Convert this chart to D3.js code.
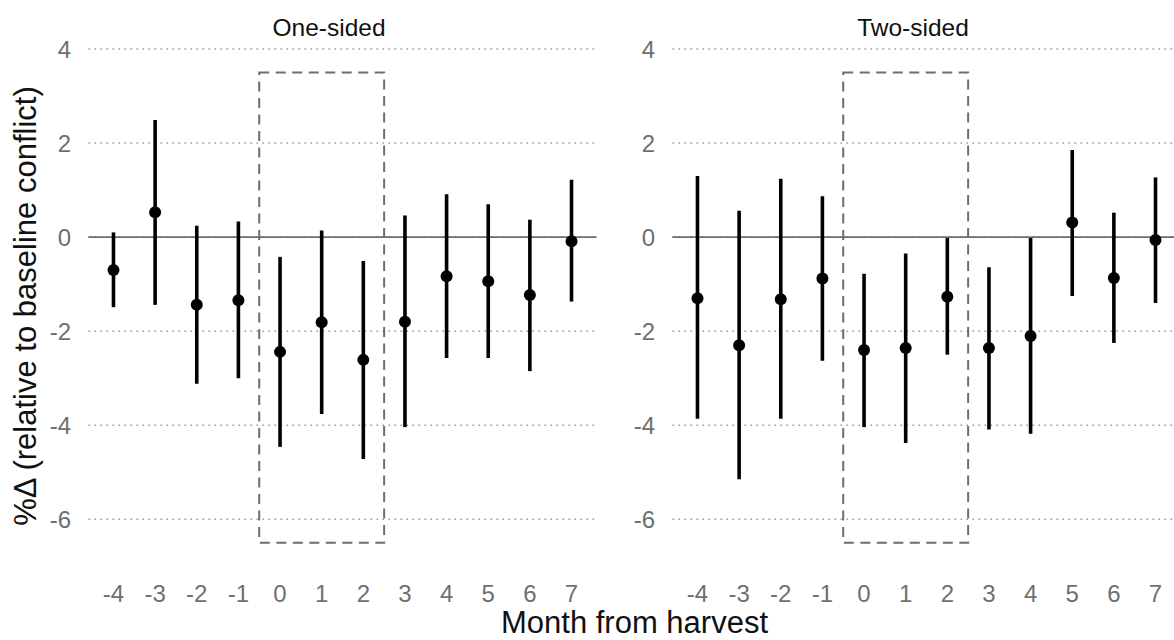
<!DOCTYPE html>
<html>
<head>
<meta charset="utf-8">
<script src="https://cdn.jsdelivr.net/npm/d3@7"></script>
<style>
  html, body { margin: 0; padding: 0; background: #ffffff; overflow: hidden; }
  svg { display: block; font-family: "Liberation Sans", Arial, Helvetica, sans-serif; }
</style>
</head>
<body>
<svg id="chart" width="1174" height="640"></svg>
<script>
// ---- data ----
const months = [-4, -3, -2, -1, 0, 1, 2, 3, 4, 5, 6, 7];
const panels = ["One-sided", "Two-sided"];

const oneSidedEst = [-0.70, 0.53, -1.44, -1.34, -2.44, -1.81, -2.61, -1.80, -0.83, -0.94, -1.23, -0.09];
const oneSidedLo  = [-1.49, -1.44, -3.12, -3.00, -4.46, -3.76, -4.72, -4.04, -2.57, -2.57, -2.85, -1.37];
const oneSidedHi  = [ 0.10, 2.49, 0.24, 0.33, -0.42, 0.14, -0.51, 0.46, 0.91, 0.70, 0.37, 1.22];

const twoSidedEst = [-1.30, -2.30, -1.32, -0.88, -2.40, -2.36, -1.27, -2.36, -2.10, 0.31, -0.87, -0.06];
const twoSidedLo  = [-3.86, -5.15, -3.86, -2.63, -4.04, -4.38, -2.50, -4.09, -4.18, -1.25, -2.25, -1.40];
const twoSidedHi  = [ 1.30, 0.56, 1.24, 0.87, -0.78, -0.35, -0.02, -0.64, -0.02, 1.85, 0.52, 1.27];

const yTicks = [-6, -4, -2, 0, 2, 4];
const xTickLabels = ["-4", "-3", "-2", "-1", "0", "1", "2", "3", "4", "5", "6", "7"];

// highlighted window (months 0..2) and its vertical extent
const boxMonths = [0, 2];
const boxY = [-6.5, 3.5];

const xTitle = "Month from harvest";
const yTitle = "%\u0394 (relative to baseline conflict)";

// ---- layout ----
const svg = d3.select("#chart");
const panelLeft = [88.5, 672.5];
const panelWidth = 508;

const y = d3.scaleLinear().domain([-6, 4]).range([519.3, 49]);

const seriesData = [
  months.map((m, i) => ({ m, est: oneSidedEst[i], lo: oneSidedLo[i], hi: oneSidedHi[i] })),
  months.map((m, i) => ({ m, est: twoSidedEst[i], lo: twoSidedLo[i], hi: twoSidedHi[i] }))
];

panels.forEach((name, p) => {
  const x0 = panelLeft[p];
  const x = d3.scalePoint().domain(months).range([x0, x0 + panelWidth]).padding(0.6);
  const step = x.step();
  const g = svg.append("g");

  // gridlines (dotted)
  g.selectAll(".grid").data(yTicks).join("line")
    .attr("x1", x0).attr("x2", x0 + panelWidth)
    .attr("y1", d => y(d)).attr("y2", d => y(d))
    .attr("stroke", "#9a9a9a").attr("stroke-width", 1.6)
    .attr("stroke-dasharray", "1.6 4.4");

  // zero line
  g.append("line")
    .attr("x1", x0).attr("x2", x0 + panelWidth)
    .attr("y1", y(0)).attr("y2", y(0))
    .attr("stroke", "#6e6e6e").attr("stroke-width", 1.6);

  // dashed window
  g.append("rect")
    .attr("x", x(boxMonths[0]) - step / 2)
    .attr("y", y(boxY[1]))
    .attr("width", x(boxMonths[1]) - x(boxMonths[0]) + step)
    .attr("height", y(boxY[0]) - y(boxY[1]))
    .attr("fill", "none").attr("stroke", "#6e6e6e").attr("stroke-width", 2)
    .attr("stroke-dasharray", "10 6.5");

  // error bars
  g.selectAll(".eb").data(seriesData[p]).join("line")
    .attr("x1", d => x(d.m)).attr("x2", d => x(d.m))
    .attr("y1", d => y(d.lo)).attr("y2", d => y(d.hi))
    .attr("stroke", "#000").attr("stroke-width", 3.6);

  // points
  g.selectAll(".pt").data(seriesData[p]).join("circle")
    .attr("cx", d => x(d.m)).attr("cy", d => y(d.est)).attr("r", 6)
    .attr("fill", "#000");

  // y tick labels
  g.selectAll(".ytl").data(yTicks).join("text")
    .attr("x", x0 - 17.5).attr("y", d => y(d)).attr("dy", "0.36em")
    .attr("text-anchor", "end").attr("font-size", 24).attr("fill", "#6f6f6f")
    .text(d => d);

  // x tick labels
  g.selectAll(".xtl").data(months).join("text")
    .attr("x", d => x(d)).attr("y", 602)
    .attr("text-anchor", "middle").attr("font-size", 24).attr("fill", "#6f6f6f")
    .text((d, i) => xTickLabels[i]);

  // strip title
  g.append("text")
    .attr("x", x0 + panelWidth / 2 - 13.5).attr("y", 36)
    .attr("text-anchor", "middle").attr("font-size", 24.5).attr("fill", "#111")
    .text(name);
});

// axis titles
svg.append("text")
  .attr("x", (panelLeft[0] + panelLeft[1] + panelWidth) / 2).attr("y", 633)
  .attr("text-anchor", "middle").attr("font-size", 31).attr("fill", "#111")
  .text(xTitle);

svg.append("text")
  .attr("transform", "translate(36,306) rotate(-90)")
  .attr("text-anchor", "middle").attr("font-size", 31).attr("fill", "#111")
  .text(yTitle);
</script>
</body>
</html>
